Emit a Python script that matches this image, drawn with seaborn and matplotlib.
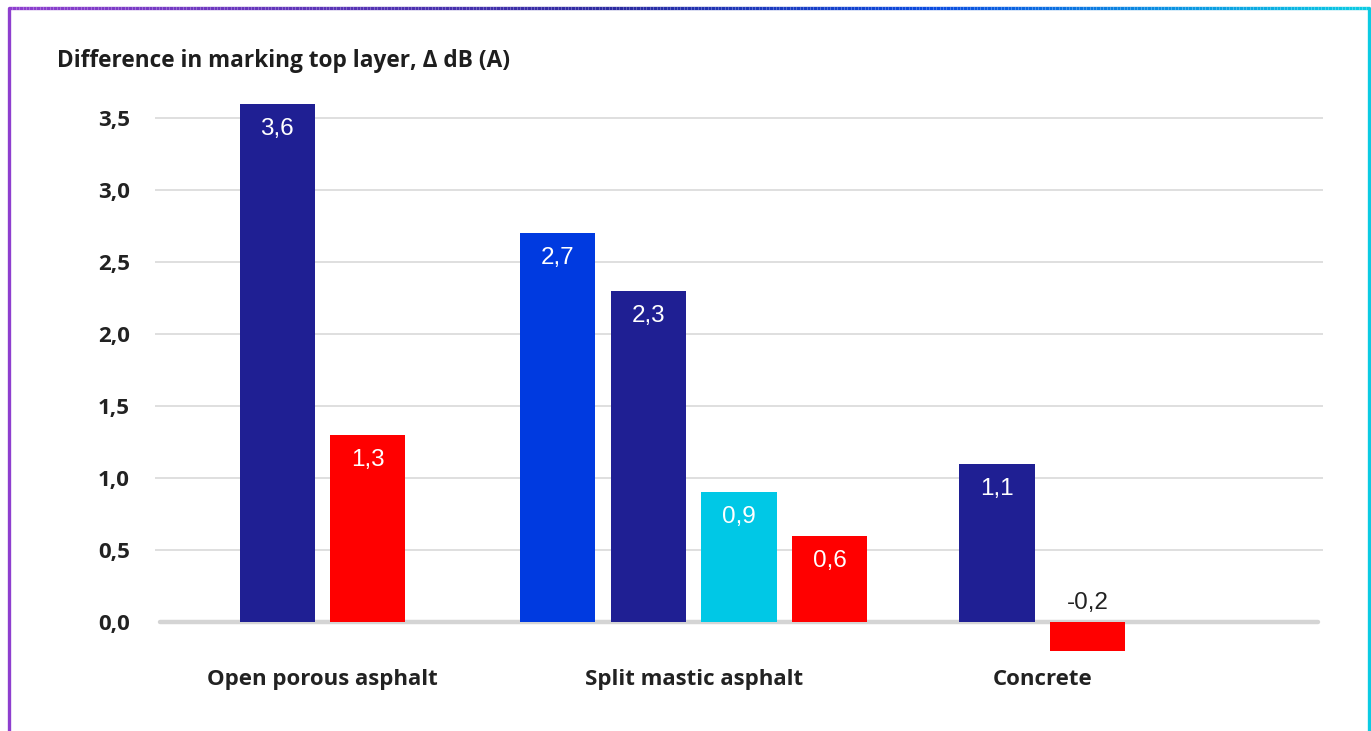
import numpy as np
import pandas as pd
import matplotlib
matplotlib.use("Agg")
import matplotlib.pyplot as plt
from matplotlib.collections import LineCollection
from matplotlib.colors import LinearSegmentedColormap
from matplotlib.lines import Line2D
import seaborn as sns

# ---- data -------------------------------------------------------------
surfaces = ["Open porous asphalt", "Split mastic asphalt", "Concrete"]
series_per_surface = [
    ["navy", "red"],
    ["blue", "navy", "cyan", "red"],
    ["navy", "red"],
]
values_per_surface = [
    [3.6, 1.3],
    [2.7, 2.3, 0.9, 0.6],
    [1.1, -0.2],
]
y_ticks = [0.0, 0.5, 1.0, 1.5, 2.0, 2.5, 3.0, 3.5]
title = "Difference in marking top layer, \u0394 dB (A)"

palette = {"navy": "#1f1f93", "blue": "#003ae0", "cyan": "#00c8e6", "red": "#ff0000"}

# ---- layout -----------------------------------------------------------
W, H = 1371, 731
group_centers = [1.85, 5.95, 9.80]   # slot units along the x axis
slot = 1.0
bar_w = 0.83
x_max = 12.9

rows = []
for s, sers, vals, c in zip(surfaces, series_per_surface, values_per_surface, group_centers):
    n = len(vals)
    for k, (ser, v) in enumerate(zip(sers, vals)):
        rows.append({"surface": s, "series": ser, "value": v,
                     "pos": c + (k - (n - 1) / 2) * slot})
df = pd.DataFrame(rows)

sns.set_theme(style="white")
BOLD_FAMILY = ["Open Sans", "DejaVu Sans"]
plt.rcParams["font.family"] = BOLD_FAMILY

fig = plt.figure(figsize=(W / 100, H / 100), dpi=100)
fig.patch.set_facecolor("white")

px_left, px_right = 155, 1323
px_zero, px_top, px_bottom = 622, 90, 652
unit = 144.0  # pixels per dB
ymin = -(px_bottom - px_zero) / unit
ymax = (px_zero - px_top) / unit

ax = fig.add_axes([px_left / W, (H - px_bottom) / H,
                   (px_right - px_left) / W, (px_bottom - px_top) / H])

sns.barplot(data=df, x="pos", y="value", hue="series", palette=palette,
            native_scale=True, dodge=False, legend=False, ax=ax,
            saturation=1, linewidth=0, err_kws={"linewidth": 0})

# uniform bar widths around each computed center
for p in ax.patches:
    cx = p.get_x() + p.get_width() / 2
    p.set_width(bar_w)
    p.set_x(cx - bar_w / 2)
    p.set_zorder(3)

ax.set_xlim(0, x_max)
ax.set_ylim(ymin, ymax)

# grid lines and zero baseline
for t in y_ticks[1:]:
    ax.axhline(t, color="#dcdcdc", lw=1.3, zorder=1)
ax.add_line(Line2D([0.004, 0.996], [0, 0], transform=ax.get_yaxis_transform(),
                   color="#d4d4d4", lw=3.2, solid_capstyle="round", zorder=2))

for sp in ax.spines.values():
    sp.set_visible(False)

ax.set_yticks(y_ticks)
ax.set_yticklabels([f"{t:.1f}".replace(".", ",") for t in y_ticks],
                   fontsize=16, fontweight="bold", color="#222222")
ax.tick_params(axis="y", length=0, pad=18)
ax.set_xticks(group_centers)
ax.set_xticklabels(surfaces, fontsize=16, fontweight="bold", color="#222222")
ax.tick_params(axis="x", length=0, pad=12)
ax.set_xlabel("")
ax.set_ylabel("")

# value labels
for _, r in df.iterrows():
    txt = f"{r['value']:.1f}".replace(".", ",")
    if r["value"] >= 0:
        ax.annotate(txt, (r["pos"], r["value"]), xytext=(0, -18),
                    textcoords="offset points", ha="center", va="center",
                    color="white", fontsize=17.5, family=["Liberation Sans"], zorder=4)
    else:
        ax.annotate(txt, (r["pos"], 0), xytext=(0, 14),
                    textcoords="offset points", ha="center", va="center",
                    color="#222222", fontsize=17.5, family=["Liberation Sans"], zorder=4)

fig.text(57 / W, 1 - 61 / H, title, fontsize=16.3, fontweight="bold",
         color="#1e1e1e", ha="left", va="center", family=BOLD_FAMILY)

# frame: gradient top edge, purple left edge, cyan right edge
cmap = LinearSegmentedColormap.from_list(
    "edge", [(0.0, "#8e3fcf"), (0.45, "#2a2aa0"), (0.68, "#0a4be0"), (1.0, "#0bcbe3")])
xs = np.linspace(9, 1369, 400) / W
yy = 1 - 7.5 / H
segs = [[(xs[i], yy), (xs[i + 1], yy)] for i in range(len(xs) - 1)]
lc = LineCollection(segs, colors=cmap(np.linspace(0, 1, len(segs))),
                    linewidths=2.4, transform=fig.transFigure)
fig.add_artist(lc)
fig.add_artist(Line2D([9 / W, 9 / W], [yy, 0], transform=fig.transFigure,
                      color="#8e3fcf", lw=2.4))
fig.add_artist(Line2D([1369 / W, 1369 / W], [yy, 0], transform=fig.transFigure,
                      color="#0bcbe3", lw=2.4))

fig.savefig("out.png", dpi=100, facecolor="white")
